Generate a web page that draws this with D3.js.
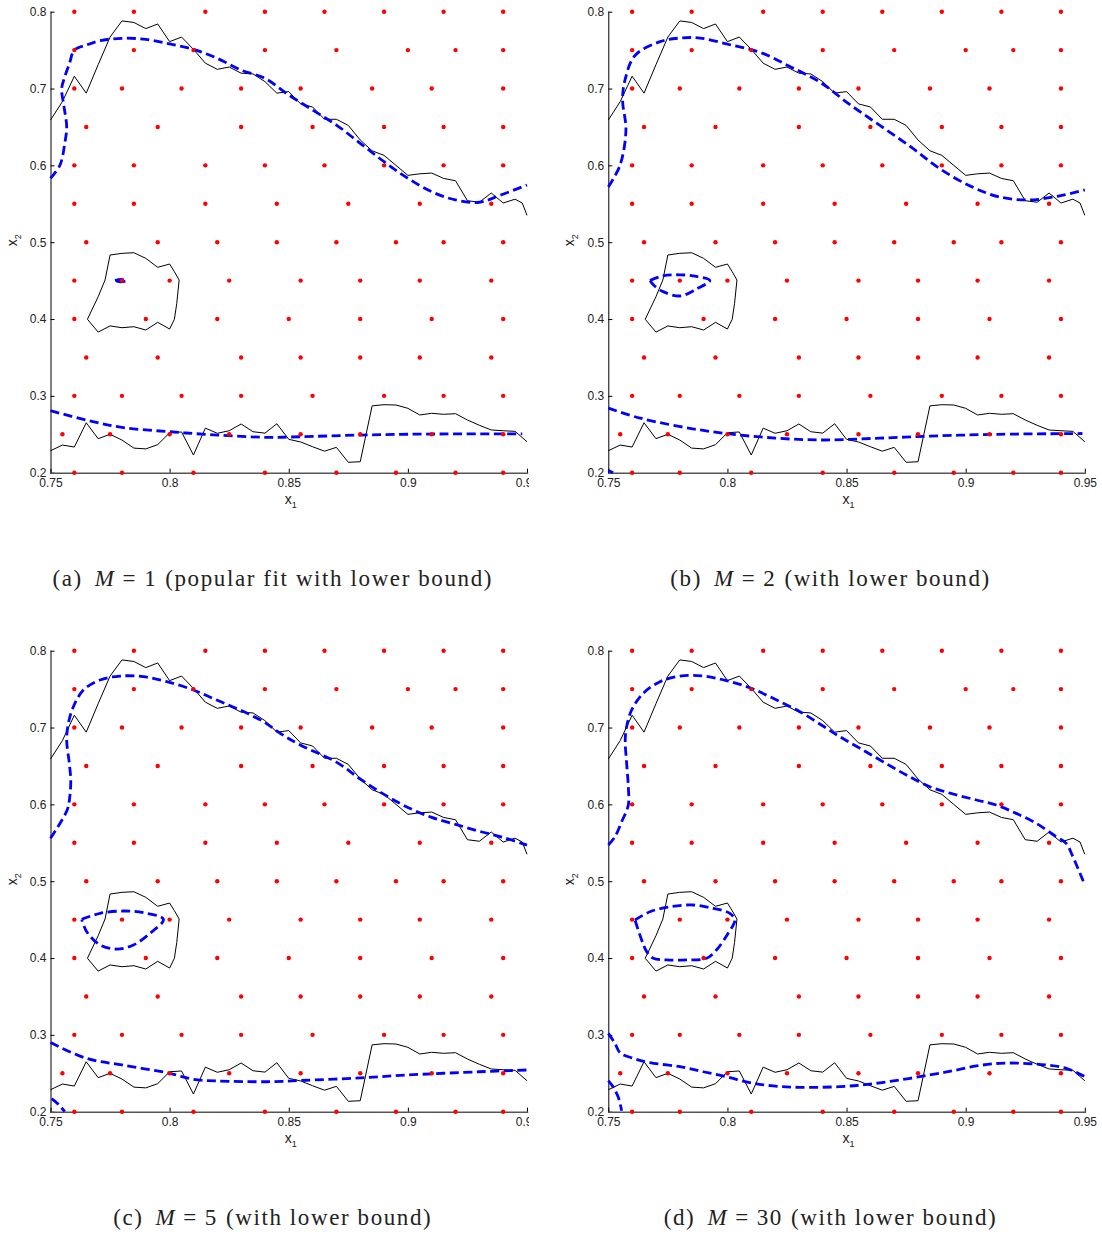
<!DOCTYPE html>
<html>
<head>
<meta charset="utf-8">
<script src="https://cdn.jsdelivr.net/npm/d3@7"></script>
<style>
  body { margin: 0; background: #fff; }
  .tick text { font-family: "Liberation Sans", Arial, sans-serif; font-size: 12px; fill: #222; }
  .caption { font-family: "Liberation Serif", "Times New Roman", serif; font-size: 23px; letter-spacing: 1.6px; fill: #222; }
</style>
</head>
<body>
<div id="vis-container"></div>
<script>
// sample points (red dots), one row per x2 level
let dotRows = [
  [0.80, [0.76, 0.785, 0.815, 0.84, 0.865, 0.89, 0.915, 0.94]],
  [0.75, [0.76, 0.785, 0.81, 0.84, 0.87, 0.9, 0.92, 0.94]],
  [0.70, [0.76, 0.78, 0.805, 0.83, 0.855, 0.885, 0.91, 0.94]],
  [0.65, [0.765, 0.795, 0.83, 0.86, 0.89, 0.915, 0.94]],
  [0.60, [0.76, 0.785, 0.815, 0.84, 0.865, 0.89, 0.915, 0.94]],
  [0.55, [0.76, 0.785, 0.815, 0.845, 0.875, 0.905, 0.935]],
  [0.50, [0.765, 0.795, 0.82, 0.845, 0.87, 0.895, 0.915, 0.94]],
  [0.45, [0.76, 0.78, 0.8, 0.825, 0.855, 0.88, 0.905, 0.935]],
  [0.40, [0.76, 0.79, 0.82, 0.85, 0.88, 0.91, 0.94]],
  [0.35, [0.765, 0.795, 0.83, 0.855, 0.88, 0.905, 0.935]],
  [0.30, [0.76, 0.78, 0.805, 0.83, 0.86, 0.89, 0.915, 0.94]],
  [0.25, [0.755, 0.775, 0.8, 0.825, 0.855, 0.88, 0.91, 0.94]],
  [0.20, [0.76, 0.78, 0.81, 0.84, 0.87, 0.895, 0.92, 0.94]]
];

// true boundary (black), same in all panels
let trueUpper = [[0.75,0.659],[0.755,0.683],[0.76,0.716],[0.765,0.694],[0.77,0.731],[0.775,0.767],[0.78,0.788],
  [0.785,0.786],[0.79,0.778],[0.795,0.784],[0.8,0.761],[0.805,0.767],[0.81,0.751],[0.815,0.733],[0.82,0.725],
  [0.825,0.728],[0.83,0.720],[0.835,0.719],[0.84,0.709],[0.845,0.694],[0.85,0.696],[0.855,0.680],[0.86,0.676],
  [0.865,0.660],[0.87,0.660],[0.875,0.652],[0.88,0.633],[0.885,0.619],[0.89,0.613],[0.895,0.600],[0.9,0.587],
  [0.905,0.589],[0.91,0.590],[0.915,0.583],[0.92,0.580],[0.925,0.554],[0.93,0.552],[0.935,0.564],[0.94,0.551],
  [0.945,0.556],[0.948,0.551],[0.95,0.535]];
let trueLower = [[0.75,0.2286],[0.755,0.236],[0.76,0.2334],[0.765,0.265],[0.77,0.2443],[0.775,0.250],[0.78,0.2425],
  [0.785,0.232],[0.79,0.231],[0.795,0.2365],[0.8,0.252],[0.805,0.253],[0.81,0.223],[0.815,0.258],[0.82,0.2513],
  [0.825,0.2546],[0.83,0.2634],[0.835,0.2533],[0.84,0.2515],[0.845,0.2637],[0.85,0.2434],[0.855,0.240],[0.86,0.2338],
  [0.865,0.228],[0.87,0.233],[0.875,0.2135],[0.88,0.2143],[0.885,0.287],[0.89,0.2885],[0.895,0.2881],[0.9,0.2838],
  [0.905,0.2751],[0.91,0.2773],[0.915,0.2760],[0.92,0.2768],[0.925,0.2686],[0.93,0.2617],[0.935,0.2556],
  [0.94,0.2546],[0.945,0.2538],[0.95,0.2403]];
let trueIsland = [[0.775,0.4833],[0.78,0.4855],[0.785,0.4863],[0.79,0.479],[0.795,0.4673],[0.8,0.4716],[0.802,0.4616],
  [0.804,0.4508],[0.803,0.4204],[0.802,0.3997],[0.8,0.387],[0.795,0.3957],[0.79,0.3857],[0.785,0.39],[0.78,0.3887],
  [0.775,0.391],[0.77,0.383],[0.7655,0.3997],[0.77,0.429],[0.7729,0.4508],[0.775,0.4833]];

// fitted boundaries (blue dashed), M = 1
let fitA_upper = [[0.75,0.583],[0.754,0.6005],[0.756,0.629],[0.7568,0.65],[0.7557,0.676],[0.7547,0.70],[0.756,0.7154],
  [0.758,0.733],[0.76,0.75],[0.7652,0.7567],[0.7708,0.7623],[0.78,0.7654],[0.79,0.764],[0.80,0.758],[0.81,0.751],
  [0.82,0.7393],[0.83,0.724],[0.84,0.7133],[0.85,0.6916],[0.86,0.672],[0.87,0.6525],[0.88,0.6287],[0.89,0.6048],
  [0.90,0.5832],[0.91,0.5657],[0.92,0.555],[0.93,0.552],[0.939,0.5614],[0.95,0.5745]];
let fitA_lower = [[0.75,0.2807],[0.765,0.2686],[0.78,0.259],[0.8,0.2533],[0.82,0.249],[0.841,0.246],[0.855,0.2468],
  [0.88,0.249],[0.908,0.2503],[0.948,0.2505]];
let fitA_loop = [[0.7771,0.45],[0.7795,0.4515],[0.782,0.45],[0.7795,0.4485],[0.7771,0.45]];

// M = 2
let fitB_upper = [[0.75,0.572],[0.7549,0.600],[0.7574,0.646],[0.756,0.685],[0.757,0.711],[0.7612,0.743],[0.7717,0.761],
  [0.78,0.7657],[0.7885,0.7657],[0.801,0.757],[0.8138,0.747],[0.826,0.729],[0.839,0.708],[0.851,0.680],[0.864,0.652],
  [0.877,0.624],[0.889,0.596],[0.902,0.573],[0.914,0.559],[0.927,0.555],[0.939,0.560],[0.95,0.568]];
let fitB_lower = [[0.75,0.284],[0.7634,0.271],[0.7886,0.2556],[0.8138,0.2465],[0.839,0.2426],[0.864,0.245],
  [0.889,0.248],[0.914,0.250],[0.949,0.251]];
let fitB_corner = [[0.75,0.203],[0.752,0.2]];
let fitB_loop = [[0.7675,0.4502],[0.773,0.4563],[0.7801,0.4576],[0.787,0.4554],[0.7926,0.4502],[0.787,0.439],
  [0.7801,0.430],[0.773,0.4357],[0.7689,0.4445],[0.7675,0.4502]];

// M = 5
let fitC_upper = [[0.75,0.5558],[0.757,0.5927],[0.7581,0.610],[0.7585,0.6317],[0.7579,0.6534],[0.7568,0.6838],
  [0.7575,0.7055],[0.7596,0.7271],[0.7638,0.7488],[0.7708,0.7619],[0.7792,0.767],[0.789,0.7662],[0.7988,0.7597],
  [0.81,0.7489],[0.8198,0.7358],[0.8296,0.7228],[0.8394,0.7076],[0.8464,0.6925],[0.855,0.677],[0.87,0.655],
  [0.88,0.633],[0.89,0.613],[0.9,0.596],[0.91,0.583],[0.92,0.574],[0.93,0.565],[0.94,0.557],[0.95,0.547]];
let fitC_lower = [[0.75,0.290],[0.765,0.2695],[0.78,0.2608],[0.8,0.250],[0.81,0.2421],[0.82,0.240],[0.841,0.239],
  [0.855,0.2406],[0.88,0.244],[0.9,0.2478],[0.93,0.252],[0.95,0.2543]];
let fitC_corner = [[0.7505,0.217],[0.7535,0.209],[0.756,0.2]];
let fitC_loop = [[0.7631,0.4504],[0.7708,0.4582],[0.7806,0.4612],[0.789,0.459],[0.7974,0.4504],[0.7918,0.4322],
  [0.7848,0.417],[0.7778,0.4117],[0.7708,0.417],[0.7652,0.4343],[0.7631,0.4504]];

// M = 30
let fitD_upper = [[0.75,0.5471],[0.7528,0.5579],[0.7556,0.5774],[0.7584,0.5992],[0.7584,0.623],[0.7577,0.6534],
  [0.7571,0.6838],[0.7577,0.7011],[0.7598,0.7228],[0.7647,0.7446],[0.7717,0.7597],[0.7801,0.767],[0.7898,0.767],
  [0.7996,0.761],[0.8094,0.7518],[0.8192,0.738],[0.8304,0.7206],[0.8401,0.702],[0.8472,0.688],[0.8556,0.673],
  [0.8653,0.6555],[0.8751,0.6382],[0.8849,0.623],[0.8947,0.6135],[0.9045,0.6057],[0.9128,0.5992],[0.9212,0.5883],
  [0.9296,0.5754],[0.938,0.5579],[0.9422,0.5493],[0.945,0.5319],[0.95,0.495]];
let fitD_lower = [[0.75,0.302],[0.7528,0.289],[0.7549,0.2767],[0.7605,0.2695],[0.7675,0.2638],[0.7801,0.2586],
  [0.7898,0.252],[0.7996,0.2456],[0.8094,0.2378],[0.8192,0.2335],[0.8304,0.2317],[0.8472,0.2326],[0.8598,0.236],
  [0.8723,0.2413],[0.8849,0.2478],[0.8947,0.2534],[0.9045,0.2595],[0.9142,0.263],[0.924,0.263],[0.9338,0.2608],
  [0.9422,0.2565],[0.95,0.2456]];
let fitD_corner = [[0.75,0.2404],[0.7521,0.2317],[0.7542,0.2187],[0.7556,0.2013]];
let fitD_loop = [[0.7612,0.4495],[0.7675,0.4603],[0.7759,0.4668],[0.7856,0.469],[0.794,0.4647],[0.801,0.4582],
  [0.8031,0.4495],[0.8003,0.4322],[0.7954,0.4105],[0.7912,0.3997],[0.7829,0.3975],[0.7745,0.3975],[0.7689,0.3997],
  [0.7661,0.4083],[0.764,0.4235],[0.7612,0.4495]];

let xTicks = [0.75, 0.8, 0.85, 0.9, 0.95];
let yTicks = [0.2, 0.3, 0.4, 0.5, 0.6, 0.7, 0.8];

let captions = [
  ["(a)", "1", "(popular fit with lower bound)"],
  ["(b)", "2", "(with lower bound)"],
  ["(c)", "5", "(with lower bound)"],
  ["(d)", "30", "(with lower bound)"]
];
let fits = [
  [fitA_upper, fitA_lower, fitA_loop],
  [fitB_upper, fitB_lower, fitB_loop, fitB_corner],
  [fitC_upper, fitC_lower, fitC_loop, fitC_corner],
  [fitD_upper, fitD_lower, fitD_loop, fitD_corner]
];

// panel geometry
let width = 476.5, height = 461;
let origins = [[50.5, 11.7], [608.3, 11.7], [50.5, 650.7], [608.3, 650.7]];

let svg = d3.select("#vis-container")
  .append("svg")
  .attr("width", 1102)
  .attr("height", 1235);

svg.append("rect").attr("width", 1102).attr("height", 1235).attr("fill", "#fff");

// left column is cut just past its last tick
svg.append("clipPath").attr("id", "leftcut")
  .append("rect").attr("x", 0).attr("y", 0).attr("width", 529).attr("height", 1235);

let x = d3.scaleLinear().domain([0.75, 0.95]).range([0, width]);
let y = d3.scaleLinear().domain([0.2, 0.8]).range([height, 0]);

let line = d3.line().x(d => x(d[0])).y(d => y(d[1]));
let smooth = d3.line().x(d => x(d[0])).y(d => y(d[1])).curve(d3.curveCatmullRom.alpha(0.5));

let dots = [];
dotRows.forEach(r => r[1].forEach(v => dots.push([v, r[0]])));

origins.forEach((o, i) => {
  let outer = svg.append("g");
  if (i % 2 == 0) outer.attr("clip-path", "url(#leftcut)");
  let g = outer.append("g").attr("transform", `translate(${o[0]}, ${o[1]})`);

  // axes
  let yAxis = d3.axisLeft(y).tickValues(yTicks).tickSizeInner(-4).tickSizeOuter(0).tickPadding(4)
    .tickFormat(d3.format(".1f"));
  let xAxis = d3.axisBottom(x).tickValues(xTicks).tickSizeInner(-4).tickSizeOuter(0).tickPadding(6)
    .tickFormat(d => String(+d.toFixed(2)));

  let ya = g.append("g").call(yAxis);
  let xa = g.append("g").attr("transform", `translate(0,${height})`).call(xAxis);
  ya.select(".domain").attr("stroke", "#000").attr("stroke-width", 1);
  xa.select(".domain").attr("stroke", "#555").attr("stroke-width", 1.5);
  g.selectAll(".tick line").attr("stroke", "#000");
  g.selectAll(".domain").attr("stroke-linecap", "square");
  g.selectAll(".tick text").attr("font-family", null).attr("font-size", null);

  // true boundary
  [trueUpper, trueLower, trueIsland].forEach(c => {
    g.append("path").attr("d", line(c))
      .attr("fill", "none").attr("stroke", "#000").attr("stroke-width", 1);
  });

  // fitted boundary
  fits[i].forEach(c => {
    g.append("path").attr("d", smooth(c))
      .attr("fill", "none").attr("stroke", "#0000ff").attr("stroke-width", 2.8)
      .attr("stroke-dasharray", "9,4.5");
  });

  // samples
  g.selectAll("circle")
    .data(dots)
    .enter()
    .append("circle")
      .attr("cx", d => x(d[0]))
      .attr("cy", d => y(d[1]))
      .attr("r", 2.2)
      .attr("fill", "#ff0000");

  // axis labels
  let xl = g.append("text")
    .attr("x", width / 2 - 4).attr("y", height + 31)
    .attr("font-family", "Liberation Sans, Arial, sans-serif").attr("font-size", 14).attr("fill", "#222");
  xl.append("tspan").text("x");
  xl.append("tspan").attr("font-size", 9).attr("dy", 4).text("1");

  let yl = g.append("text")
    .attr("transform", `translate(-34,${height / 2 + 4}) rotate(-90)`)
    .attr("font-family", "Liberation Sans, Arial, sans-serif").attr("font-size", 14).attr("fill", "#222");
  yl.append("tspan").text("x");
  yl.append("tspan").attr("font-size", 9).attr("dy", 4).text("2");

  // caption
  let cap = svg.append("text")
    .attr("class", "caption")
    .attr("x", o[0] + width / 2 - 16)
    .attr("y", o[1] + 574)
    .attr("text-anchor", "middle");
  cap.append("tspan").text(captions[i][0]);
  cap.append("tspan").attr("dx", 12).attr("font-style", "italic").text("M");
  cap.append("tspan").attr("dx", 7).text("=");
  cap.append("tspan").attr("dx", 7).text(captions[i][1]);
  cap.append("tspan").attr("dx", 8).text(captions[i][2]);
});
</script>
</body>
</html>
